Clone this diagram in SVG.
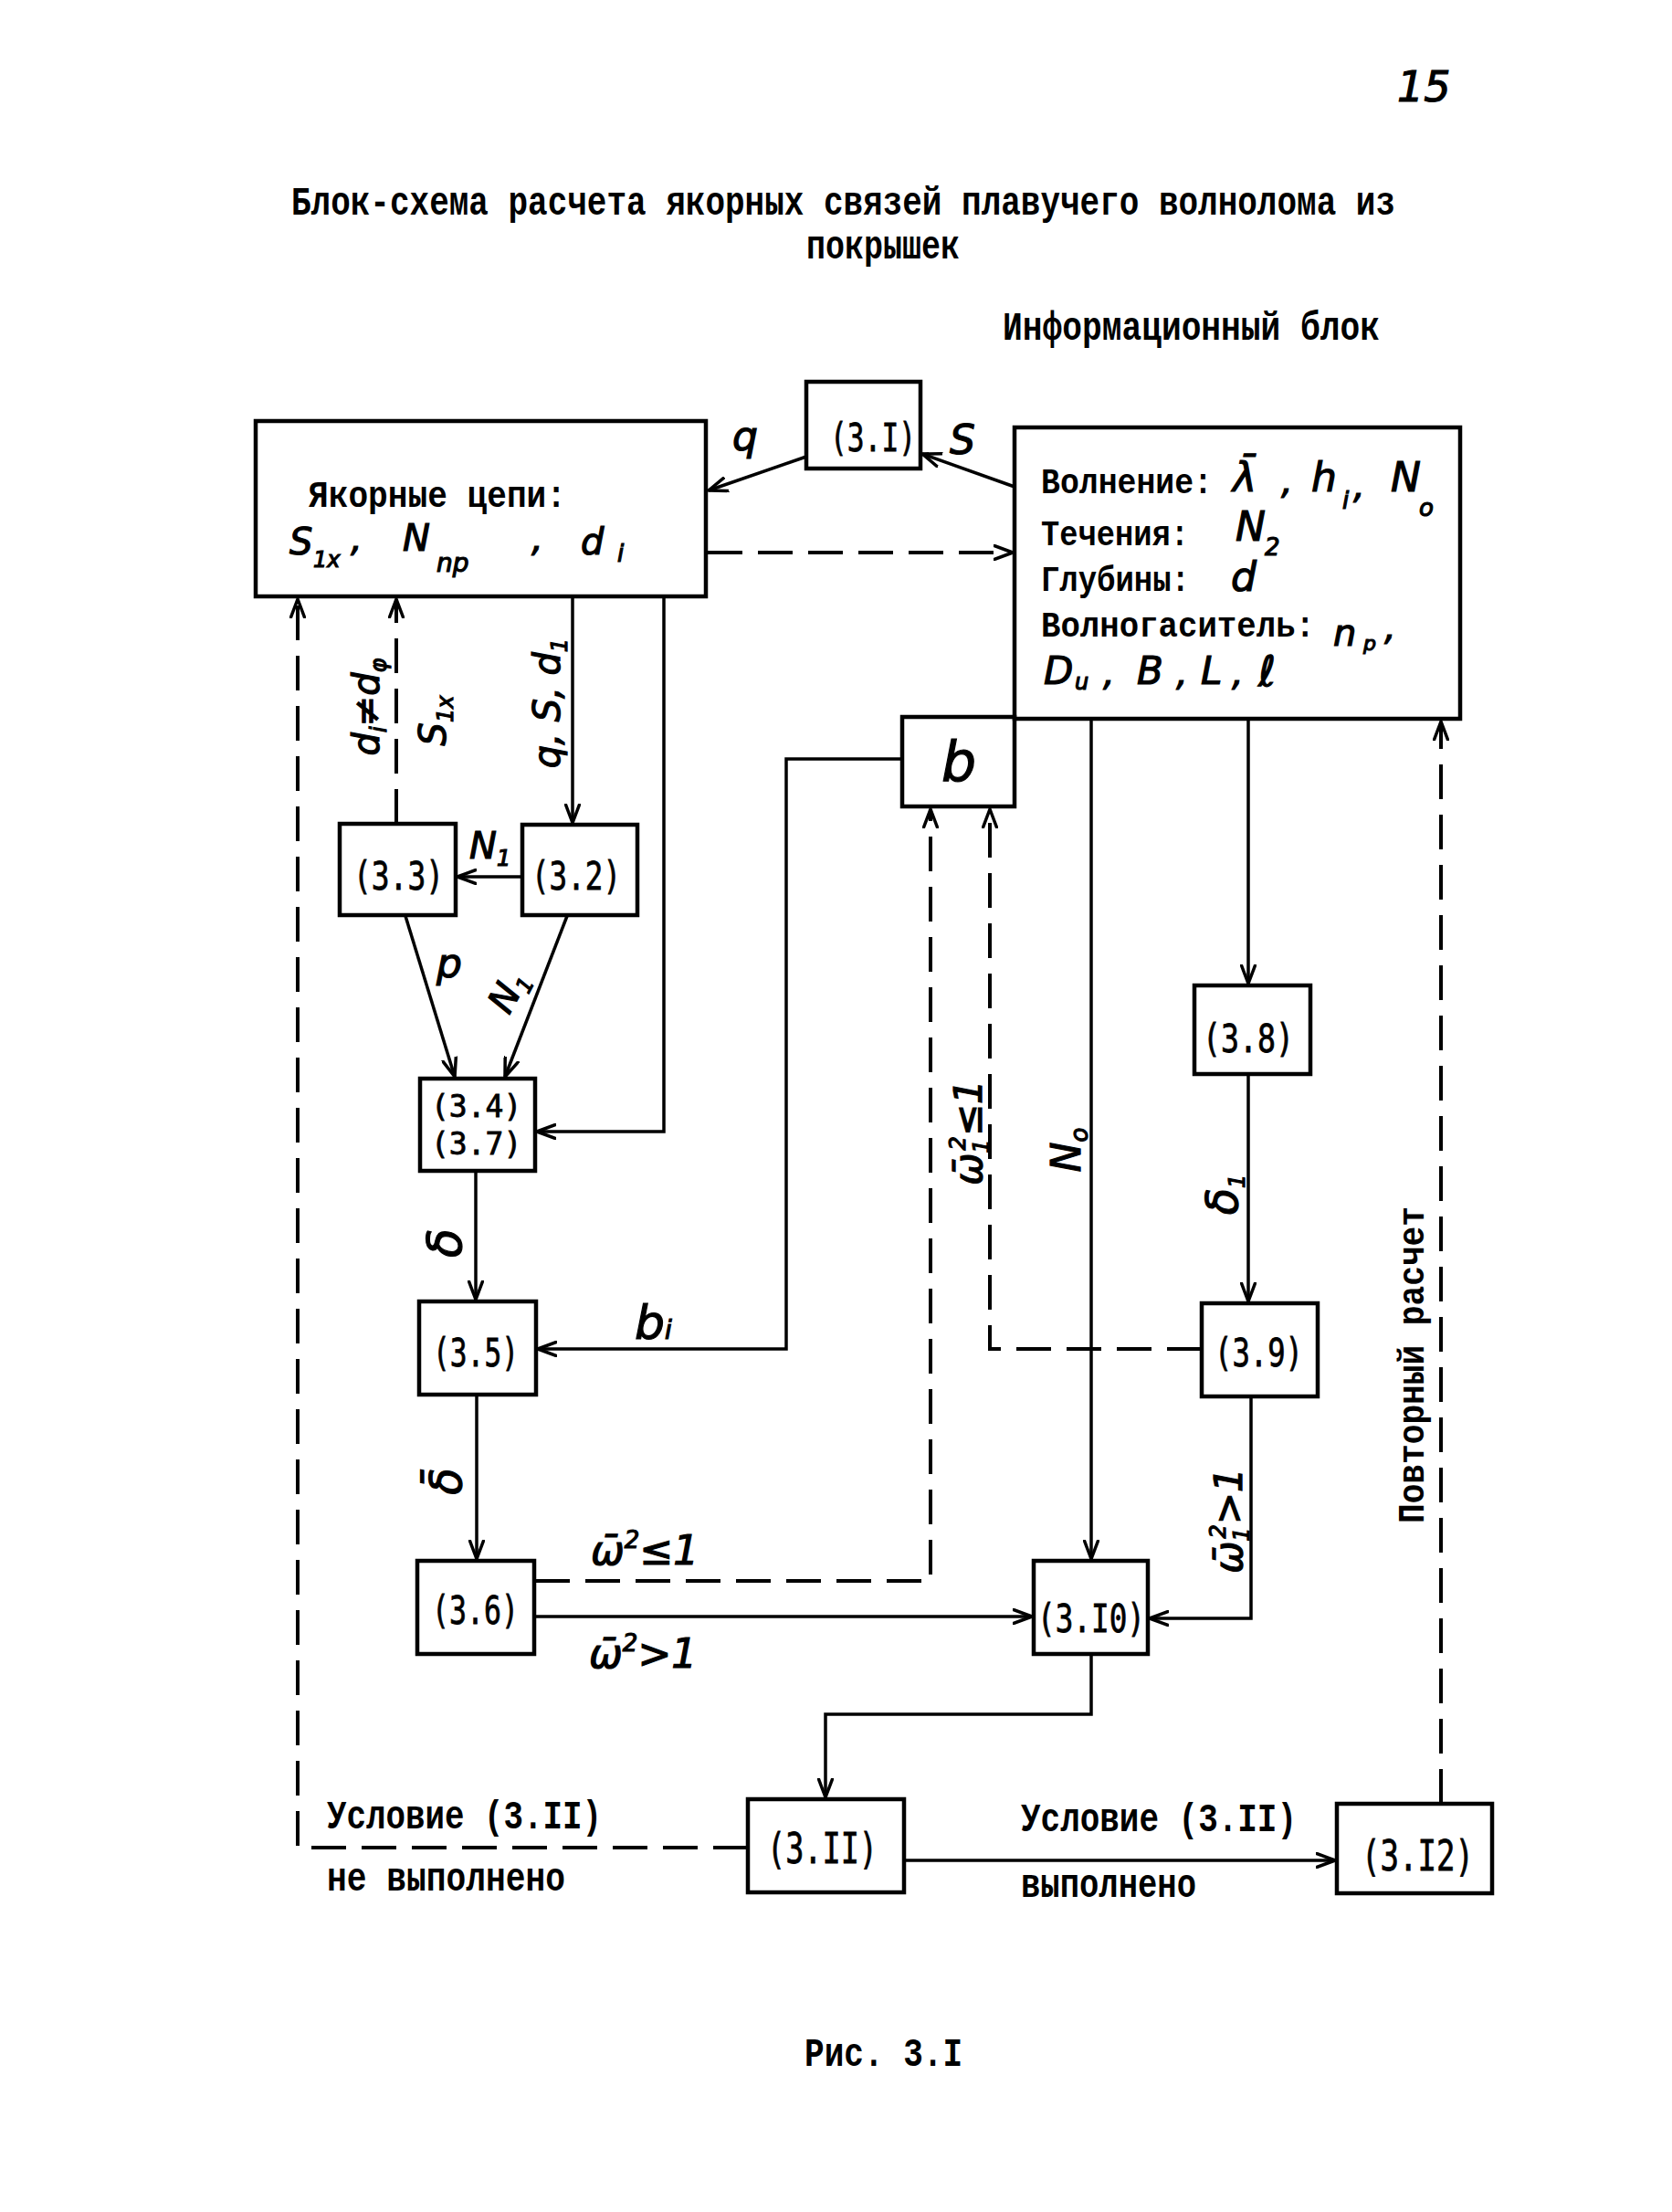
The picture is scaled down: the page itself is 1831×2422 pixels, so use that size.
<svg xmlns="http://www.w3.org/2000/svg" width="1831" height="2422" viewBox="0 0 1831 2422">
<style>
.box{fill:none;stroke:#000;stroke-width:4.5}
.ln{fill:none;stroke:#000;stroke-width:3.5}
.dash{fill:none;stroke:#000;stroke-width:4;stroke-dasharray:38 17}
.tw{font-family:"Liberation Mono","Courier New",monospace;font-weight:bold;fill:#000}
.num{font-family:"DejaVu Sans Mono","Liberation Mono",monospace;fill:#000;stroke:#000;stroke-width:0.8}
.hw{font-family:"DejaVu Sans","Liberation Sans",sans-serif;font-style:italic;fill:#000;stroke:#000;stroke-width:1.2}
</style>
<defs>
<marker id="ah" viewBox="0 0 22 18" refX="21" refY="9" markerWidth="22" markerHeight="18" markerUnits="userSpaceOnUse" orient="auto">
<path d="M1,1.5 L21,9 L1,16.5" fill="none" stroke="#000" stroke-width="3.5" stroke-linecap="round" stroke-linejoin="round"/>
</marker>
</defs>
<rect width="1831" height="2422" fill="#fff"/>

<!-- page texts -->
<text class="hw" x="1530" y="111" font-size="46">15</text>
<text class="tw" x="319" y="235" font-size="44" textLength="1209" lengthAdjust="spacingAndGlyphs">Блок-схема расчета якорных связей плавучего волнолома из</text>
<text class="tw" x="883" y="283" font-size="44" textLength="168" lengthAdjust="spacingAndGlyphs">покрышек</text>
<text class="tw" x="1098" y="372" font-size="44" textLength="413" lengthAdjust="spacingAndGlyphs">Информационный блок</text>
<text class="tw" x="881" y="2262" font-size="44" textLength="173" lengthAdjust="spacingAndGlyphs">Рис. 3.I</text>

<!-- connectors -->
<g id="connectors">
<line class="ln" x1="883" y1="500" x2="776" y2="537" marker-end="url(#ah)"/>
<line class="ln" x1="1111" y1="533" x2="1010" y2="497" marker-end="url(#ah)"/>
<line class="dash" x1="775" y1="605" x2="1109" y2="605" marker-end="url(#ah)"/>
<line class="ln" x1="627" y1="653" x2="627" y2="901" marker-end="url(#ah)"/>
<line class="ln" x1="572" y1="960" x2="501" y2="960" marker-end="url(#ah)"/>
<line class="dash" x1="434" y1="902" x2="434" y2="656" marker-end="url(#ah)"/>
<polyline class="dash" points="819,2023 326,2023 326,656" marker-end="url(#ah)"/>
<polyline class="ln" points="727,653 727,1239 588,1239" marker-end="url(#ah)"/>
<line class="ln" x1="444" y1="1003" x2="498" y2="1179" marker-end="url(#ah)"/>
<line class="ln" x1="621" y1="1003" x2="553" y2="1179" marker-end="url(#ah)"/>
<line class="ln" x1="521" y1="1282" x2="521" y2="1423" marker-end="url(#ah)"/>
<polyline class="ln" points="988,831 861,831 861,1477 589,1477" marker-end="url(#ah)"/>
<line class="ln" x1="522" y1="1527" x2="522" y2="1707" marker-end="url(#ah)"/>
<polyline class="dash" points="586,1731 1019,1731 1019,886" marker-end="url(#ah)"/>
<line class="ln" x1="586" y1="1770" x2="1130" y2="1770" marker-end="url(#ah)"/>
<line class="ln" x1="1195" y1="787" x2="1195" y2="1707" marker-end="url(#ah)"/>
<line class="ln" x1="1367" y1="787" x2="1367" y2="1077" marker-end="url(#ah)"/>
<line class="ln" x1="1367" y1="1176" x2="1367" y2="1425" marker-end="url(#ah)"/>
<polyline class="dash" points="1316,1477 1084,1477 1084,886" marker-end="url(#ah)"/>
<polyline class="ln" points="1370,1529 1370,1772 1259,1772" marker-end="url(#ah)"/>
<polyline class="ln" points="1195,1811 1195,1877 904,1877 904,1968" marker-end="url(#ah)"/>
<line class="ln" x1="990" y1="2037" x2="1462" y2="2037" marker-end="url(#ah)"/>
<line class="dash" x1="1578" y1="1975" x2="1578" y2="790" marker-end="url(#ah)"/>

<!-- connector labels -->
<text class="hw" x="802" y="493" font-size="44">q</text>
<text class="hw" x="1040" y="497" font-size="44">S</text>
<text class="hw" transform="translate(415,774) rotate(-90)" text-anchor="middle" font-size="40">d<tspan font-size="24" dy="8">i</tspan><tspan dy="-8">≠d</tspan><tspan font-size="24" dy="8">φ</tspan></text>
<text class="hw" transform="translate(488,789) rotate(-90)" text-anchor="middle" font-size="40">S<tspan font-size="24" dy="8">1x</tspan></text>
<text class="hw" transform="translate(613,770) rotate(-90)" text-anchor="middle" font-size="40">q, S, d<tspan font-size="24" dy="8">1</tspan></text>
<text class="hw" x="514" y="940" font-size="40">N<tspan font-size="24" dy="8">1</tspan></text>
<text class="hw" x="478" y="1070" font-size="44">p</text>
<text class="hw" transform="translate(568,1092) rotate(-62)" text-anchor="middle" font-size="40">N<tspan font-size="24" dy="8">1</tspan></text>
<text class="hw" transform="translate(505,1361) rotate(-90)" text-anchor="middle" font-size="52">δ</text>
<text class="hw" x="695" y="1466" font-size="52">b<tspan font-size="28">i</tspan></text>
<text class="hw" transform="translate(505,1622) rotate(-90)" text-anchor="middle" font-size="48">δ̄</text>
<text class="hw" x="647" y="1713" font-size="44">ω̄<tspan font-size="26" dy="-18">2</tspan><tspan dy="18">≤1</tspan></text>
<text class="hw" x="645" y="1826" font-size="44">ω̄<tspan font-size="26" dy="-18">2</tspan><tspan dy="18">&gt;1</tspan></text>
<text class="hw" transform="translate(1075,1240) rotate(-90)" text-anchor="middle" font-size="42">ω̄<tspan font-size="24" dy="8">1</tspan><tspan font-size="24" dx="-12" dy="-26">2</tspan><tspan dy="18">≤1</tspan></text>
<text class="hw" transform="translate(1183,1259) rotate(-90)" text-anchor="middle" font-size="44">N<tspan font-size="26" dy="8">o</tspan></text>
<text class="hw" transform="translate(1355,1308) rotate(-90)" text-anchor="middle" font-size="48">δ<tspan font-size="24" dy="8">1</tspan></text>
<text class="hw" transform="translate(1360,1665) rotate(-90)" text-anchor="middle" font-size="42">ω̄<tspan font-size="24" dy="8">1</tspan><tspan font-size="24" dx="-12" dy="-26">2</tspan><tspan dy="18">&gt;1</tspan></text>
<text class="tw" transform="translate(1559,1668) rotate(-90)" font-size="40" textLength="347" lengthAdjust="spacingAndGlyphs">Повторный расчет</text>
<text class="tw" x="358" y="2002" font-size="44" textLength="301" lengthAdjust="spacingAndGlyphs">Условие (3.II)</text>
<text class="tw" x="358" y="2070" font-size="44" textLength="261" lengthAdjust="spacingAndGlyphs">не выполнено</text>
<text class="tw" x="1118" y="2005" font-size="44" textLength="302" lengthAdjust="spacingAndGlyphs">Условие (3.II)</text>
<text class="tw" x="1118" y="2077" font-size="44" textLength="192" lengthAdjust="spacingAndGlyphs">выполнено</text>
</g>

<!-- nodes -->
<g id="n31">
<rect class="box" x="883" y="418" width="125" height="95"/>
<text class="num" x="909" y="494" font-size="42" textLength="94" lengthAdjust="spacingAndGlyphs">(3.I)</text>
</g>
<g id="anchors">
<rect class="box" x="280" y="461" width="493" height="192"/>
<text class="tw" x="338" y="555" font-size="40" textLength="282" lengthAdjust="spacingAndGlyphs">Якорные цепи:</text>
<text class="hw" x="317" y="607" font-size="40">S</text>
<text class="hw" x="343" y="621" font-size="24">1x</text>
<text class="hw" x="384" y="603" font-size="40">,</text>
<text class="hw" x="441" y="603" font-size="40">N</text>
<text class="hw" x="478" y="626" font-size="28">np</text>
<text class="hw" x="582" y="603" font-size="40">,</text>
<text class="hw" x="636" y="607" font-size="40">d</text>
<text class="hw" x="676" y="615" font-size="26">i</text>
</g>
<g id="info">
<rect class="box" x="1111" y="468" width="488" height="319"/>
<text class="tw" x="1140" y="540" font-size="38" textLength="188" lengthAdjust="spacingAndGlyphs">Волнение:</text>
<text class="tw" x="1140" y="597" font-size="38" textLength="162" lengthAdjust="spacingAndGlyphs">Течения:</text>
<text class="tw" x="1140" y="647" font-size="38" textLength="163" lengthAdjust="spacingAndGlyphs">Глубины:</text>
<text class="tw" x="1140" y="697" font-size="38" textLength="300" lengthAdjust="spacingAndGlyphs">Волногаситель:</text>
<text class="hw" x="1350" y="538" font-size="44">λ̄</text>
<text class="hw" x="1403" y="540" font-size="40">,</text>
<text class="hw" x="1436" y="538" font-size="44">h</text>
<text class="hw" x="1470" y="557" font-size="26">i</text>
<text class="hw" x="1482" y="545" font-size="40">,</text>
<text class="hw" x="1523" y="538" font-size="44">N</text>
<text class="hw" x="1554" y="565" font-size="26">o</text>
<text class="hw" x="1353" y="592" font-size="44">N</text>
<text class="hw" x="1385" y="608" font-size="26">2</text>
<text class="hw" x="1348" y="647" font-size="44">d</text>
<text class="hw" x="1460" y="707" font-size="40">n</text>
<text class="hw" x="1493" y="712" font-size="22">p</text>
<text class="hw" x="1516" y="700" font-size="40">,</text>
<text class="hw" x="1143" y="749" font-size="42">D</text>
<text class="hw" x="1177" y="755" font-size="24">u</text>
<text class="hw" x="1208" y="750" font-size="40">,</text>
<text class="hw" x="1245" y="749" font-size="42">B</text>
<text class="hw" x="1288" y="750" font-size="40">,</text>
<text class="hw" x="1315" y="749" font-size="42">L</text>
<text class="hw" x="1349" y="750" font-size="40">,</text>
<text class="hw" x="1378" y="751" font-size="46">ℓ</text>
</g>
<g id="nb">
<rect class="box" x="988" y="785" width="123" height="98"/>
<text class="hw" x="1050" y="855" font-size="60" text-anchor="middle">b</text>
</g>
<g id="n33">
<rect class="box" x="372" y="902" width="127" height="100"/>
<text class="num" x="387" y="974" font-size="42" textLength="99" lengthAdjust="spacingAndGlyphs">(3.3)</text>
</g>
<g id="n32">
<rect class="box" x="572" y="903" width="126" height="99"/>
<text class="num" x="582" y="974" font-size="42" textLength="98" lengthAdjust="spacingAndGlyphs">(3.2)</text>
</g>
<g id="n34">
<rect class="box" x="460" y="1181" width="126" height="101"/>
<text class="num" font-size="33"><tspan x="472" y="1223">(3.4)</tspan><tspan x="472" y="1264">(3.7)</tspan></text>
</g>
<g id="n35">
<rect class="box" x="459" y="1425" width="128" height="102"/>
<text class="num" x="474" y="1496" font-size="42" textLength="94" lengthAdjust="spacingAndGlyphs">(3.5)</text>
</g>
<g id="n36">
<rect class="box" x="457" y="1709" width="128" height="102"/>
<text class="num" x="473" y="1778" font-size="42" textLength="95" lengthAdjust="spacingAndGlyphs">(3.6)</text>
</g>
<g id="n38">
<rect class="box" x="1308" y="1079" width="127" height="97"/>
<text class="num" x="1317" y="1152" font-size="42" textLength="100" lengthAdjust="spacingAndGlyphs">(3.8)</text>
</g>
<g id="n39">
<rect class="box" x="1316" y="1427" width="127" height="102"/>
<text class="num" x="1330" y="1496" font-size="42" textLength="97" lengthAdjust="spacingAndGlyphs">(3.9)</text>
</g>
<g id="n310">
<rect class="box" x="1132" y="1709" width="125" height="102"/>
<text class="num" x="1136" y="1787" font-size="42" textLength="118" lengthAdjust="spacingAndGlyphs">(3.I0)</text>
</g>
<g id="n311">
<rect class="box" x="819" y="1970" width="171" height="102"/>
<text class="num" x="840" y="2040" font-size="46" textLength="121" lengthAdjust="spacingAndGlyphs">(3.II)</text>
</g>
<g id="n312">
<rect class="box" x="1464" y="1975" width="170" height="98"/>
<text class="num" x="1491" y="2048" font-size="46" textLength="123" lengthAdjust="spacingAndGlyphs">(3.I2)</text>
</g>
</svg>
